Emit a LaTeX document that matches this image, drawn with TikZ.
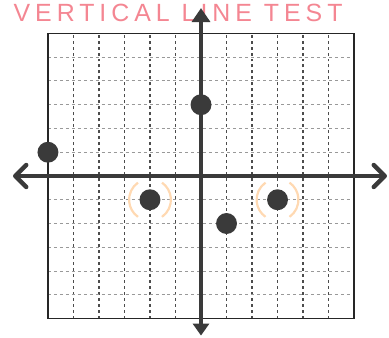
\documentclass[tikz,border=0pt]{standalone}
\usepackage{fontspec}
\newfontfamily\handfont[LetterSpace=20]{Liberation Sans}
\usetikzlibrary{arrows.meta, positioning}
\definecolor{penpink}{RGB}{244,134,146}
\definecolor{inkgray}{RGB}{58,58,58}

\begin{document}
\begin{tikzpicture}[x=0.9cm, y=0.838cm]
        % Define styles
        \tikzset{
            gridv/.style={dashed, black!70, line width=1.1pt},
            gridh/.style={dashed, black!40, line width=1pt},
            border/.style={black!85, line width=1.6pt},
            xaxis/.style={{Straight Barb[length=11pt, width=22pt, round]}-{Straight Barb[length=11pt, width=22pt, round]}, line width=4.5pt, inkgray},
            yaxis/.style={{Triangle[length=12pt, width=16pt]}-{Triangle[length=14pt, width=18pt]}, line width=4pt, inkgray},
            dot/.style={circle, fill=inkgray, inner sep=0pt, minimum size=21pt},
            halo/.style={orange!30, line width=2.2pt},
            heading/.style={font=\handfont\fontsize{25}{25}\selectfont, penpink, anchor=base}
        }
        \useasboundingbox (-7.88,-6.78) rectangle (7.37,7.41);
        % Title along the top edge
        \node[heading] (title) at (-0.9,6.5) {VERTICAL LINE TEST};
        % Dashed grid
        \foreach \x in {-5,...,5} \draw[gridv] (\x,-6) -- (\x,6);
        \foreach \y in {-5,...,5} \draw[gridh] (-6,\y) -- (6,\y);
        \draw[border] (-6,-6) rectangle (6,6);
        % Axes
        \coordinate (xl) at (-7.37,0);
        \coordinate (xr) at (7.29,0);
        \coordinate (yb) at (0,-6.72);
        \coordinate (yt) at (0,7.07);
        \draw[xaxis] (xl) -- (xr);
        \draw[yaxis] (yb) -- (yt);
        % Plotted points
        \node[dot] (pA) at (-6,1) {};
        \node[dot] (pB) at (0,3) {};
        \node[dot] (pC) at (-2,-1) {};
        \node[dot] (pD) at (1,-2) {};
        \node[dot] (pE) at (3,-1) {};
        % Faint circles round two points
        \draw[halo] ([shift={(125:21pt)}]pC.center) arc[start angle=125, end angle=235, radius=21pt];
        \draw[halo] ([shift={(-55:21pt)}]pC.center) arc[start angle=-55, end angle=55, radius=21pt];
        \draw[halo] ([shift={(125:21pt)}]pE.center) arc[start angle=125, end angle=235, radius=21pt];
        \draw[halo] ([shift={(-55:21pt)}]pE.center) arc[start angle=-55, end angle=55, radius=21pt];
    \end{tikzpicture}
\end{document}
